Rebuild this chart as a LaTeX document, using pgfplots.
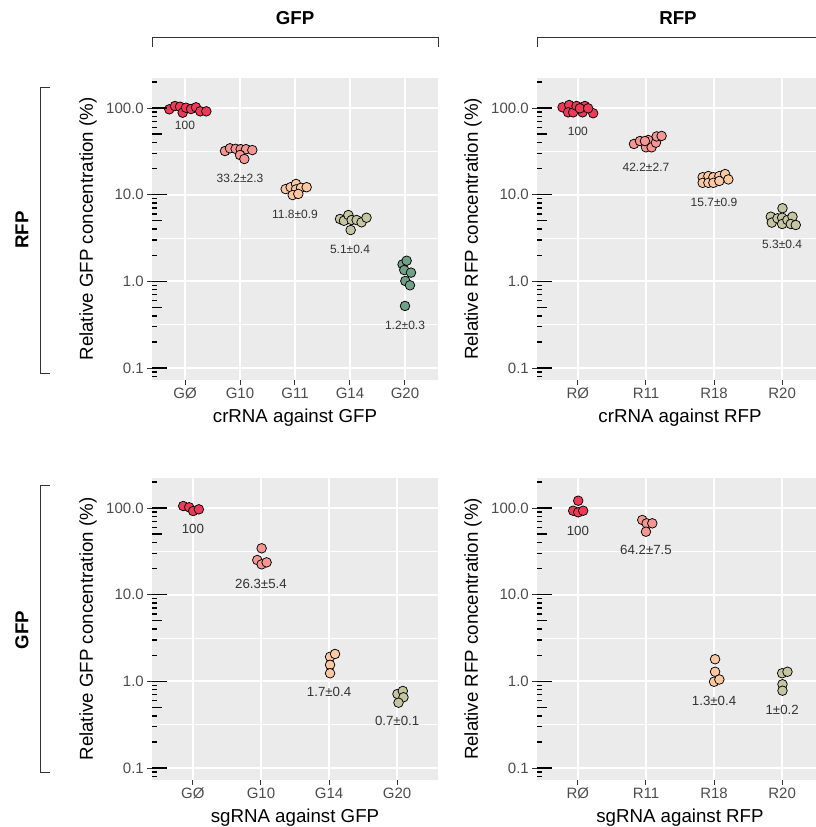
\documentclass[border=0pt]{standalone}
\usepackage{fontspec}
\setmainfont{Liberation Sans}
\usepackage{pgfplots}
\pgfplotsset{compat=1.18}

\definecolor{bg}{RGB}{235,235,235}
\definecolor{tl}{RGB}{77,77,77}
\definecolor{tk}{RGB}{51,51,51}
\definecolor{c1}{RGB}{238,58,88}
\definecolor{c2}{RGB}{244,150,146}
\definecolor{c3}{RGB}{252,200,162}
\definecolor{c4}{RGB}{196,198,162}
\definecolor{c5}{RGB}{111,160,136}

\pgfplotsset{
  every axis x label/.style={at={(axis description cs:0.5,0)}, yshift=-38pt, anchor=center, font=\fontsize{18.7}{22}\selectfont},
  every axis y label/.style={at={(axis description cs:0,0.5)}, xshift=-64pt, rotate=90, anchor=center, font=\fontsize{18.7}{22}\selectfont},
}

\begin{document}
\begin{tikzpicture}
\useasboundingbox (0,0) rectangle (815pt,-827pt);

\node[font=\bfseries\fontsize{18.7}{22}\selectfont] at (295pt,-18pt) {GFP};
\node[font=\bfseries\fontsize{18.7}{22}\selectfont] at (678pt,-18pt) {RFP};
\draw[tk, line width=1pt] (152pt,-47pt) -- (152pt,-37pt) -- (438pt,-37pt) -- (438pt,-47pt);
\draw[tk, line width=1pt] (537pt,-47pt) -- (537pt,-37pt) -- (823pt,-37pt) -- (823pt,-47pt);
\draw[tk, line width=1pt] (50pt,-87pt) -- (40pt,-87pt) -- (40pt,-373pt) -- (50pt,-373pt);
\draw[tk, line width=1pt] (50pt,-485pt) -- (40pt,-485pt) -- (40pt,-772pt) -- (50pt,-772pt);
\node[font=\bfseries\fontsize{18.7}{22}\selectfont, rotate=90] at (22pt,-230pt) {RFP};
\node[font=\bfseries\fontsize{18.7}{22}\selectfont, rotate=90] at (22pt,-630pt) {GFP};

% ================= top left =================
\begin{axis}[at={(152pt,-380pt)}, anchor=south west,
  scale only axis, width=286pt, height=302pt,
  ymode=log, ymin=0.0727, ymax=222, xmin=-0.6, xmax=4.6,
  axis background/.style={fill=bg}, axis line style={draw=none},
  ytick={0.1,1,10,100}, yticklabels={0.1,1.0,10.0,100.0},
  minor ytick={0.316,3.16,31.6},
  xtick={0,1,2,3,4}, xticklabels={GØ,G10,G11,G14,G20},
  grid=both, major grid style={white, line width=1.8pt}, minor grid style={white, line width=0.9pt},
  tick align=outside, tick pos=left, major tick length=4.7pt, minor tick length=0pt,
  tick style={tk, line width=1pt},
  tick label style={font=\fontsize{15}{18}\selectfont, text=tl},
  xlabel={crRNA against GFP}, ylabel={Relative GFP concentration (\%)}]
\addplot[only marks, mark=*, mark size=4.8pt, mark options={fill=c1, draw=black, line width=0.75pt}] coordinates {(-0.285,96.6) (-0.182,105.5) (-0.091,103.5) (-0.042,88.3) (0.018,100.8) (0.109,97.4) (0.2,101.9) (0.278,91.6) (0.388,91.6)};
\addplot[only marks, mark=*, mark size=4.8pt, mark options={fill=c2, draw=black, line width=0.75pt}] coordinates {(0.727,31.9) (0.818,34.3) (0.921,33.8) (1.012,33.5) (1.109,33.5) (1.224,32.7) (1.0,28.7) (1.079,25.8)};
\addplot[only marks, mark=*, mark size=4.8pt, mark options={fill=c3, draw=black, line width=0.75pt}] coordinates {(1.83,11.6) (1.921,12.2) (2.018,13.3) (2.018,11.5) (2.109,12.0) (2.212,12.2) (1.958,9.9) (2.06,10.2)};
\addplot[only marks, mark=*, mark size=4.8pt, mark options={fill=c4, draw=black, line width=0.75pt}] coordinates {(2.818,5.24) (2.89,5.0) (2.97,5.82) (3.03,5.10) (3.12,5.10) (3.21,4.80) (3.30,5.42) (3.012,3.91)};
\addplot[only marks, mark=*, mark size=4.8pt, mark options={fill=c5, draw=black, line width=0.75pt}] coordinates {(3.956,1.57) (4.03,1.73) (3.987,1.35) (4.109,1.26) (4.006,1.01) (4.09,0.90) (4.0,0.52)};
\node[font=\fontsize{12}{14}\selectfont, text=tk] at (axis cs:0,63.7) {100};
\node[font=\fontsize{12}{14}\selectfont, text=tk] at (axis cs:1,15.6) {33.2±2.3};
\node[font=\fontsize{12}{14}\selectfont, text=tk] at (axis cs:2,5.98) {11.8±0.9};
\node[font=\fontsize{12}{14}\selectfont, text=tk] at (axis cs:3,2.36) {5.1±0.4};
\node[font=\fontsize{12}{14}\selectfont, text=tk] at (axis cs:4,0.308) {1.2±0.3};
\end{axis}
\begin{axis}[at={(152pt,-380pt)}, anchor=south west,
  scale only axis, width=286pt, height=302pt,
  ymode=log, ymin=0.0727, ymax=222, xmin=-0.6, xmax=4.6,
  axis line style={draw=none}, xtick=\empty,
  ytick={0.1,1,10,100}, yticklabels={,,,},
  minor ytick={0.08,0.09,0.2,0.3,0.4,0.6,0.7,0.8,0.9,2,3,4,6,7,8,9,20,30,40,60,70,80,90,200},
  tick align=inside, tick pos=left, major tick length=14.5pt, minor tick length=4.8pt,
  tick style={black, line width=1.4pt}]
\addplot[draw=none, forget plot] coordinates {(0,1)};
\end{axis}
\begin{axis}[at={(152pt,-380pt)}, anchor=south west,
  scale only axis, width=286pt, height=302pt,
  ymode=log, ymin=0.0727, ymax=222, xmin=-0.6, xmax=4.6,
  axis line style={draw=none}, xtick=\empty,
  ytick={0.5,5,50}, yticklabels={,,}, minor ytick={},
  tick align=inside, tick pos=left, major tick length=9.6pt, minor tick length=0pt,
  tick style={black, line width=1.4pt}]
\addplot[draw=none, forget plot] coordinates {(0,1)};
\end{axis}

% ================= top right =================
\begin{axis}[at={(537pt,-380pt)}, anchor=south west,
  scale only axis, width=286pt, height=302pt,
  ymode=log, ymin=0.0727, ymax=222, xmin=-0.6, xmax=3.6,
  axis background/.style={fill=bg}, axis line style={draw=none},
  ytick={0.1,1,10,100}, yticklabels={0.1,1.0,10.0,100.0},
  minor ytick={0.316,3.16,31.6},
  xtick={0,1,2,3}, xticklabels={RØ,R11,R18,R20},
  grid=both, major grid style={white, line width=1.8pt}, minor grid style={white, line width=0.9pt},
  tick align=outside, tick pos=left, major tick length=4.7pt, minor tick length=0pt,
  tick style={tk, line width=1pt},
  tick label style={font=\fontsize{15}{18}\selectfont, text=tl},
  xlabel={crRNA against RFP}, ylabel={Relative RFP concentration (\%)}]
\addplot[only marks, mark=*, mark size=4.8pt, mark options={fill=c1, draw=black, line width=0.75pt}] coordinates {(-0.225,101.9) (-0.128,108.3) (-0.143,89.2) (-0.069,89.2) (-0.019,105.5) (0.069,89.2) (0.103,105.5) (0.225,87.0) (0.029,99.2) (0.151,99.2)};
\addplot[only marks, mark=*, mark size=4.8pt, mark options={fill=c2, draw=black, line width=0.75pt}] coordinates {(0.824,38.5) (0.912,41.6) (1.0,35.2) (1.034,42.7) (1.083,35.2) (1.147,39.8) (1.157,47.0) (1.23,47.6) (0.985,41.6)};
\addplot[only marks, mark=*, mark size=4.8pt, mark options={fill=c3, draw=black, line width=0.75pt}] coordinates {(1.833,15.9) (1.833,13.7) (1.917,16.4) (1.917,13.7) (1.99,15.9) (1.99,13.7) (2.078,16.4) (2.078,14.4) (2.162,17.3) (2.21,15.0)};
\addplot[only marks, mark=*, mark size=4.8pt, mark options={fill=c4, draw=black, line width=0.75pt}] coordinates {(2.833,5.57) (2.848,4.76) (2.931,5.33) (3.005,6.97) (3.0,5.42) (3.0,4.59) (3.078,5.10) (3.152,5.57) (3.127,4.59) (3.2,4.47)};
\node[font=\fontsize{12}{14}\selectfont, text=tk] at (axis cs:0,53.9) {100};
\node[font=\fontsize{12}{14}\selectfont, text=tk] at (axis cs:1,20.7) {42.2±2.7};
\node[font=\fontsize{12}{14}\selectfont, text=tk] at (axis cs:2,8.22) {15.7±0.9};
\node[font=\fontsize{12}{14}\selectfont, text=tk] at (axis cs:3,2.70) {5.3±0.4};
\end{axis}
\begin{axis}[at={(537pt,-380pt)}, anchor=south west,
  scale only axis, width=286pt, height=302pt,
  ymode=log, ymin=0.0727, ymax=222, xmin=-0.6, xmax=3.6,
  axis line style={draw=none}, xtick=\empty,
  ytick={0.1,1,10,100}, yticklabels={,,,},
  minor ytick={0.08,0.09,0.2,0.3,0.4,0.6,0.7,0.8,0.9,2,3,4,6,7,8,9,20,30,40,60,70,80,90,200},
  tick align=inside, tick pos=left, major tick length=14.5pt, minor tick length=4.8pt,
  tick style={black, line width=1.4pt}]
\addplot[draw=none, forget plot] coordinates {(0,1)};
\end{axis}
\begin{axis}[at={(537pt,-380pt)}, anchor=south west,
  scale only axis, width=286pt, height=302pt,
  ymode=log, ymin=0.0727, ymax=222, xmin=-0.6, xmax=3.6,
  axis line style={draw=none}, xtick=\empty,
  ytick={0.5,5,50}, yticklabels={,,}, minor ytick={},
  tick align=inside, tick pos=left, major tick length=9.6pt, minor tick length=0pt,
  tick style={black, line width=1.4pt}]
\addplot[draw=none, forget plot] coordinates {(0,1)};
\end{axis}

% ================= bottom left =================
\begin{axis}[at={(152pt,-780pt)}, anchor=south west,
  scale only axis, width=286pt, height=302pt,
  ymode=log, ymin=0.0727, ymax=222, xmin=-0.6, xmax=3.6,
  axis background/.style={fill=bg}, axis line style={draw=none},
  ytick={0.1,1,10,100}, yticklabels={0.1,1.0,10.0,100.0},
  minor ytick={0.316,3.16,31.6},
  xtick={0,1,2,3}, xticklabels={GØ,G10,G14,G20},
  grid=both, major grid style={white, line width=1.8pt}, minor grid style={white, line width=0.9pt},
  tick align=outside, tick pos=left, major tick length=4.7pt, minor tick length=0pt,
  tick style={tk, line width=1pt},
  tick label style={font=\fontsize{15}{18}\selectfont, text=tl},
  xlabel={sgRNA against GFP}, ylabel={Relative GFP concentration (\%)}]
\addplot[only marks, mark=*, mark size=4.8pt, mark options={fill=c1, draw=black, line width=0.75pt}] coordinates {(-0.142,105.5) (-0.054,101.9) (0.005,92.3) (0.088,96.6)};
\addplot[only marks, mark=*, mark size=4.8pt, mark options={fill=c2, draw=black, line width=0.75pt}] coordinates {(1.01,34.3) (0.946,25.1) (1.01,22.4) (1.083,23.6)};
\addplot[only marks, mark=*, mark size=4.8pt, mark options={fill=c3, draw=black, line width=0.75pt}] coordinates {(2.015,1.92) (2.088,2.07) (2.015,1.55) (2.015,1.24)};
\addplot[only marks, mark=*, mark size=4.8pt, mark options={fill=c4, draw=black, line width=0.75pt}] coordinates {(3.005,0.714) (3.083,0.774) (3.093,0.655) (3.02,0.567)};
\node[font=\fontsize{13.3}{15}\selectfont, text=tk] at (axis cs:0,56.7) {100};
\node[font=\fontsize{13.3}{15}\selectfont, text=tk] at (axis cs:1,13.4) {26.3±5.4};
\node[font=\fontsize{13.3}{15}\selectfont, text=tk] at (axis cs:2,0.746) {1.7±0.4};
\node[font=\fontsize{13.3}{15}\selectfont, text=tk] at (axis cs:3,0.346) {0.7±0.1};
\end{axis}
\begin{axis}[at={(152pt,-780pt)}, anchor=south west,
  scale only axis, width=286pt, height=302pt,
  ymode=log, ymin=0.0727, ymax=222, xmin=-0.6, xmax=3.6,
  axis line style={draw=none}, xtick=\empty,
  ytick={0.1,1,10,100}, yticklabels={,,,},
  minor ytick={0.08,0.09,0.2,0.3,0.4,0.6,0.7,0.8,0.9,2,3,4,6,7,8,9,20,30,40,60,70,80,90,200},
  tick align=inside, tick pos=left, major tick length=14.5pt, minor tick length=4.8pt,
  tick style={black, line width=1.4pt}]
\addplot[draw=none, forget plot] coordinates {(0,1)};
\end{axis}
\begin{axis}[at={(152pt,-780pt)}, anchor=south west,
  scale only axis, width=286pt, height=302pt,
  ymode=log, ymin=0.0727, ymax=222, xmin=-0.6, xmax=3.6,
  axis line style={draw=none}, xtick=\empty,
  ytick={0.5,5,50}, yticklabels={,,}, minor ytick={},
  tick align=inside, tick pos=left, major tick length=9.6pt, minor tick length=0pt,
  tick style={black, line width=1.4pt}]
\addplot[draw=none, forget plot] coordinates {(0,1)};
\end{axis}

% ================= bottom right =================
\begin{axis}[at={(537pt,-780pt)}, anchor=south west,
  scale only axis, width=286pt, height=302pt,
  ymode=log, ymin=0.0727, ymax=222, xmin=-0.6, xmax=3.6,
  axis background/.style={fill=bg}, axis line style={draw=none},
  ytick={0.1,1,10,100}, yticklabels={0.1,1.0,10.0,100.0},
  minor ytick={0.316,3.16,31.6},
  xtick={0,1,2,3}, xticklabels={RØ,R11,R18,R20},
  grid=both, major grid style={white, line width=1.8pt}, minor grid style={white, line width=0.9pt},
  tick align=outside, tick pos=left, major tick length=4.7pt, minor tick length=0pt,
  tick style={tk, line width=1pt},
  tick label style={font=\fontsize{15}{18}\selectfont, text=tl},
  xlabel={sgRNA against RFP}, ylabel={Relative RFP concentration (\%)}]
\addplot[only marks, mark=*, mark size=4.8pt, mark options={fill=c1, draw=black, line width=0.75pt}] coordinates {(0.005,121.4) (-0.069,93.1) (0.005,89.2) (0.078,93.1)};
\addplot[only marks, mark=*, mark size=4.8pt, mark options={fill=c2, draw=black, line width=0.75pt}] coordinates {(0.946,72.8) (1.01,66.6) (1.093,66.6) (1.0,53.3)};
\addplot[only marks, mark=*, mark size=4.8pt, mark options={fill=c3, draw=black, line width=0.75pt}] coordinates {(2.015,1.80) (2.015,1.29) (2.0,0.99) (2.078,1.05)};
\addplot[only marks, mark=*, mark size=4.8pt, mark options={fill=c4, draw=black, line width=0.75pt}] coordinates {(3.0,1.24) (3.078,1.29) (3.005,0.925) (3.005,0.78)};
\node[font=\fontsize{13.3}{15}\selectfont, text=tk] at (axis cs:0,53.9) {100};
\node[font=\fontsize{13.3}{15}\selectfont, text=tk] at (axis cs:1,32.5) {64.2±7.5};
\node[font=\fontsize{13.3}{15}\selectfont, text=tk] at (axis cs:2,0.598) {1.3±0.4};
\node[font=\fontsize{13.3}{15}\selectfont, text=tk] at (axis cs:3,0.471) {1±0.2};
\end{axis}
\begin{axis}[at={(537pt,-780pt)}, anchor=south west,
  scale only axis, width=286pt, height=302pt,
  ymode=log, ymin=0.0727, ymax=222, xmin=-0.6, xmax=3.6,
  axis line style={draw=none}, xtick=\empty,
  ytick={0.1,1,10,100}, yticklabels={,,,},
  minor ytick={0.08,0.09,0.2,0.3,0.4,0.6,0.7,0.8,0.9,2,3,4,6,7,8,9,20,30,40,60,70,80,90,200},
  tick align=inside, tick pos=left, major tick length=14.5pt, minor tick length=4.8pt,
  tick style={black, line width=1.4pt}]
\addplot[draw=none, forget plot] coordinates {(0,1)};
\end{axis}
\begin{axis}[at={(537pt,-780pt)}, anchor=south west,
  scale only axis, width=286pt, height=302pt,
  ymode=log, ymin=0.0727, ymax=222, xmin=-0.6, xmax=3.6,
  axis line style={draw=none}, xtick=\empty,
  ytick={0.5,5,50}, yticklabels={,,}, minor ytick={},
  tick align=inside, tick pos=left, major tick length=9.6pt, minor tick length=0pt,
  tick style={black, line width=1.4pt}]
\addplot[draw=none, forget plot] coordinates {(0,1)};
\end{axis}
\end{tikzpicture}
\end{document}
